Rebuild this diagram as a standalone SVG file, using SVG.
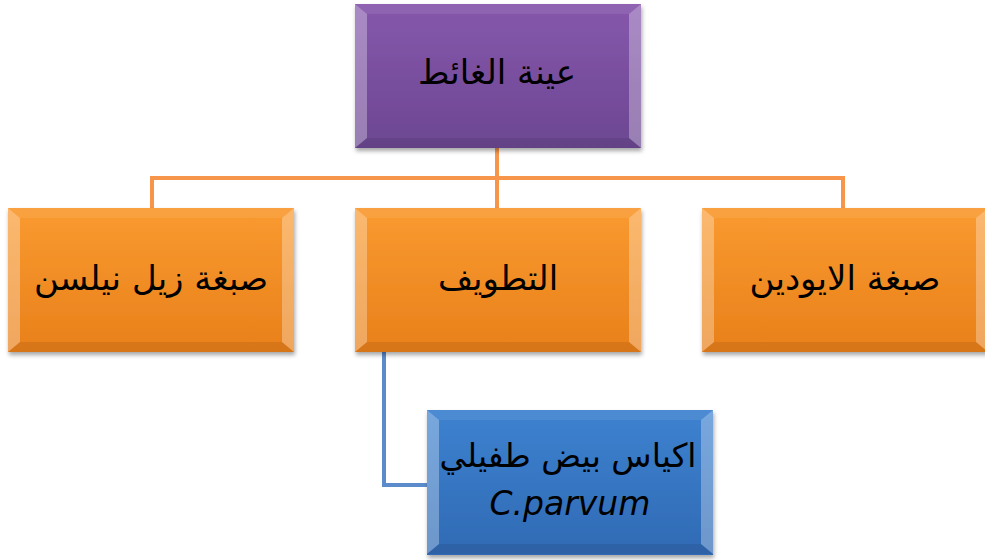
<svg xmlns="http://www.w3.org/2000/svg" width="985" height="560" viewBox="0 0 985 560">
<style>
.lbl{font-family:"DejaVu Sans","Noto Sans",sans-serif;font-size:34px;fill:#000;text-anchor:middle}
.sm{font-size:33px}
.lat{font-style:italic;font-size:33px}
.hl{fill:#fff;fill-opacity:.3}
.tp{fill:#fff;fill-opacity:.08}
.bt{fill:#000;fill-opacity:.08}
.oc{fill:none;stroke:#F7964A;stroke-width:4}
.bc{fill:none;stroke:#5B8BCB;stroke-width:4}
</style>
<defs>
<linearGradient id="gp" x1="0" y1="0" x2="0" y2="1"><stop offset="0" stop-color="#8657AC"/><stop offset="1" stop-color="#6C4792"/></linearGradient>
<linearGradient id="go" x1="0" y1="0" x2="0" y2="1"><stop offset="0" stop-color="#F99A30"/><stop offset="1" stop-color="#E9801A"/></linearGradient>
<linearGradient id="gb" x1="0" y1="0" x2="0" y2="1"><stop offset="0" stop-color="#3D82D0"/><stop offset="1" stop-color="#306AB4"/></linearGradient>
<filter id="sh" x="-5%" y="-5%" width="110%" height="115%"><feDropShadow dx="1" dy="3" stdDeviation="2" flood-opacity=".35"/></filter>
<g id="bev">
<polygon class="tp" points="0,0 286,0 274,10 12,10"/>
<polygon class="hl" points="0,0 12,10 12,134 0,144"/>
<polygon class="hl" points="286,0 286,144 274,134 274,10"/>
<polygon class="bt" points="0,144 12,134 274,134 286,144"/>
</g>
</defs>
<g id="connectors">
<path class="oc" d="M497,147 V208 M152,208 V178 H843 V208"/>
<path class="bc" d="M384,352 V485 H427"/>
</g>
<g id="n-top" transform="translate(355,4)">
<rect width="286" height="144" fill="url(#gp)" filter="url(#sh)"/>
<use href="#bev"/>
<text class="lbl" x="142" y="80">عينة الغائط</text>
</g>
<g id="n-ziehl" transform="translate(8,208)">
<rect width="286" height="144" fill="url(#go)" filter="url(#sh)"/>
<use href="#bev"/>
<text class="lbl" x="143" y="82">صبغة زيل نيلسن</text>
</g>
<g id="n-float" transform="translate(355,208)">
<rect width="286" height="144" fill="url(#go)" filter="url(#sh)"/>
<use href="#bev"/>
<text class="lbl" x="143" y="82">التطويف</text>
</g>
<g id="n-iodine" transform="translate(702,208)">
<rect width="286" height="144" fill="url(#go)" filter="url(#sh)"/>
<use href="#bev"/>
<text class="lbl" x="143" y="82">صبغة الايودين</text>
</g>
<g id="n-cyst" transform="translate(427,410)">
<rect width="286" height="145" fill="url(#gb)" filter="url(#sh)"/>
<use href="#bev"/>
<text class="lbl sm" x="141" y="57">اكياس بيض طفيلي</text>
<text class="lbl lat" x="143" y="105">C.parvum</text>
</g>
</svg>
